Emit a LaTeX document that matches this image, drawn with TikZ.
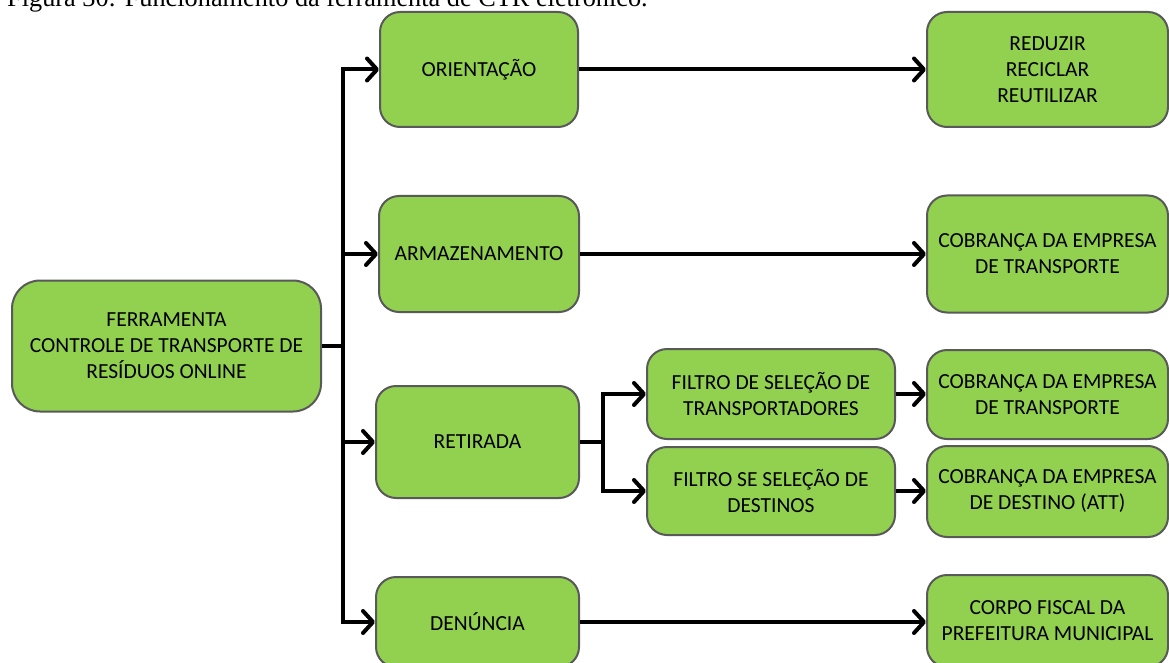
\documentclass[tikz,border=0pt]{standalone}
\usepackage{fontspec}
\setmainfont{Carlito}
\newfontfamily\captionfont{Liberation Serif}
\usetikzlibrary{arrows.meta}
\definecolor{boxgreen}{HTML}{92D050}
\definecolor{boxline}{HTML}{595959}
\begin{document}
\begin{tikzpicture}[x=1pt,y=-1pt,
  box/.style={draw=boxline, line width=2pt, fill=boxgreen, rounded corners=20pt,
    align=center, inner sep=0pt, font=\fontsize{21.5pt}{26pt}\selectfont},
  link/.style={line width=4pt, draw=black},
  arr/.style={link, -{Straight Barb[length=10pt, width=22pt, line cap=round, line join=round]}}]
\useasboundingbox (0,0) rectangle (1169,663);
\clip (0,0) rectangle (1169,663);
\fill[white] (0,0) rectangle (1169,663);

% caption line above the chart
\node[anchor=base west, inner sep=0pt, font=\captionfont\fontsize{26.3pt}{31pt}\selectfont]
  (cap) at (7,7) {Figura 30: Funcionamento da ferramenta de CTR eletrônico.};

% main tool
\node[box, rounded corners=28pt, minimum width=309pt, minimum height=131pt] (ferr) at (166.5,346)
  {FERRAMENTA\\CONTROLE DE TRANSPORTE DE\\RESÍDUOS ONLINE};

% first-level functions
\node[box, minimum width=198pt, minimum height=115pt] (ori) at (479,69.5) {ORIENTAÇÃO};
\node[box, minimum width=200pt, minimum height=116pt] (arm) at (479,254) {ARMAZENAMENTO};
\node[box, minimum width=203pt, minimum height=112pt] (ret) at (477.5,442) {RETIRADA};
\node[box, minimum width=203pt, minimum height=90pt] (den) at (477.5,622) {DENÚNCIA};

% filters of the pick-up
\node[box, minimum width=248pt, minimum height=90pt] (fil1) at (771,394)
  {FILTRO DE SELEÇÃO DE\\TRANSPORTADORES};
\node[box, minimum width=248pt, minimum height=88pt] (fil2) at (771,491)
  {FILTRO SE SELEÇÃO DE\\DESTINOS};

% outcomes
\node[box, minimum width=241pt, minimum height=115pt] (red) at (1047.5,69.5)
  {REDUZIR\\RECICLAR\\REUTILIZAR};
\node[box, minimum width=241pt, minimum height=117pt] (cob1) at (1047.5,254)
  {COBRANÇA DA EMPRESA\\DE TRANSPORTE};
\node[box, minimum width=241pt, minimum height=89pt] (cob2) at (1047.5,394.5)
  {COBRANÇA DA EMPRESA\\DE TRANSPORTE};
\node[box, minimum width=241pt, minimum height=91pt] (cob3) at (1047.5,491.5)
  {COBRANÇA DA EMPRESA\\DE DESTINO (ATT)};
\node[box, minimum width=241pt, minimum height=92pt] (corpo) at (1047.5,621)
  {CORPO FISCAL DA\\PREFEITURA MUNICIPAL};

% trunk from the main tool
\coordinate (tj) at (343,346);
\draw[link] (ferr.east) -- (tj);
\draw[arr] (tj) |- (ori.west);
\draw[arr] (tj) |- (arm.west);
\draw[arr] (tj) |- (ret.west);
\draw[arr] (tj) |- (den.west);

% branch after the pick-up
\coordinate (bj) at (603,442);
\draw[link] (ret.east) -- (bj);
\draw[arr] (bj) |- (fil1.west);
\draw[arr] (bj) |- (fil2.west);

% links to the outcomes
\draw[arr] (ori.east) -- (red.west);
\draw[arr] (arm.east) -- (arm.east -| cob1.west);
\draw[arr] (fil1.east) -- (fil1.east -| cob2.west);
\draw[arr] (fil2.east) -- (fil2.east -| cob3.west);
\draw[arr] (den.east) -- (den.east -| corpo.west);
\end{tikzpicture}
\end{document}
